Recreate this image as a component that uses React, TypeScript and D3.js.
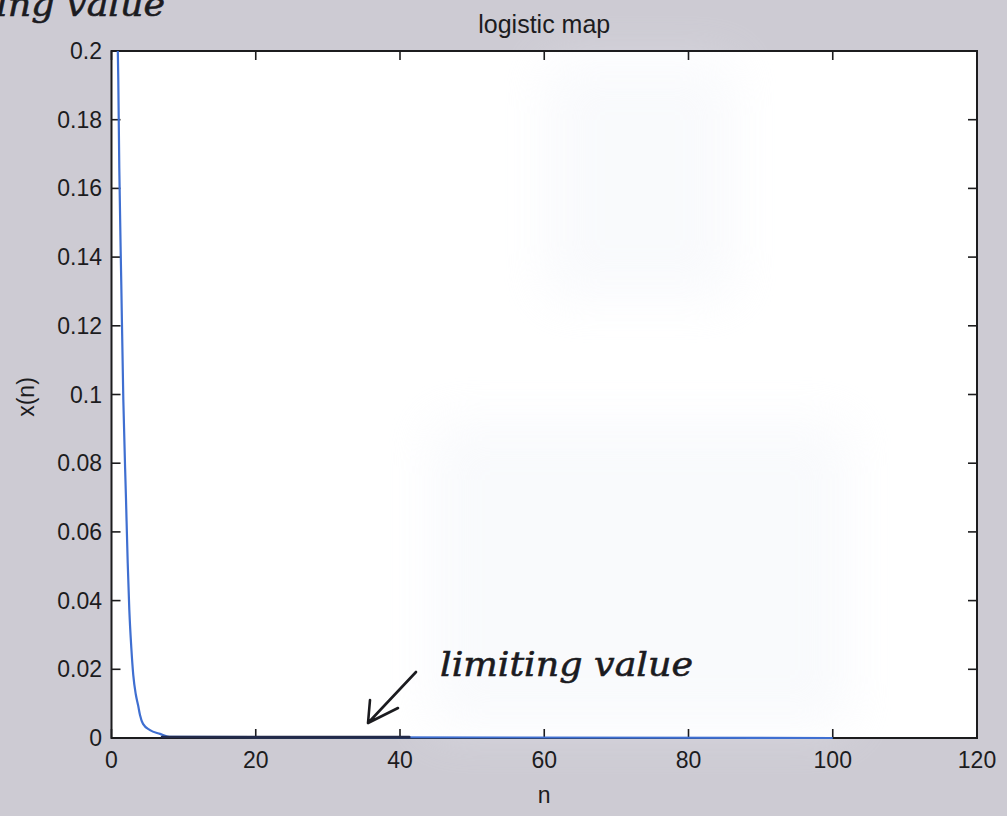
import React from "react";
import * as d3 from "d3";

const traceN = [0.875, 0.94, 1.08, 1.36, 1.64, 2.01, 2.25, 2.47, 2.75, 3.02, 3.36, 3.68, 3.95, 4.37, 5.34, 6.73, 8, 100];
const traceX = [0.2, 0.1916, 0.1659, 0.1319, 0.0984, 0.0696, 0.0509, 0.0373, 0.0262, 0.0183, 0.0128, 0.0096, 0.0067, 0.0041, 0.0023, 0.0012, 0.0003, 0];

const xTicks = [0, 20, 40, 60, 80, 100, 120];
const yTicks = [0, 0.02, 0.04, 0.06, 0.08, 0.1, 0.12, 0.14, 0.16, 0.18, 0.2];

const titleText = "logistic map";
const xLabel = "n";
const yLabel = "x(n)";
const noteText = "limiting value";
// Pen stroke drawn over the settled part of the curve
const penFrom = 7;
const penTo = 41.3;

const W = 1007;
const H = 816;
const M = { left: 111.5, right: 977, top: 51, bottom: 738 };

export default function App() {
  const x = d3.scaleLinear().domain([0, 120]).range([M.left, M.right]);
  const y = d3.scaleLinear().domain([0, 0.2]).range([M.bottom, M.top]);
  const pts: [number, number][] = traceN.map((n, i) => [n, traceX[i]]);
  const line = d3
    .line<[number, number]>()
    .x((d) => x(d[0]))
    .y((d) => y(d[1]))
    .curve(d3.curveMonotoneX);

  const font = "'Liberation Sans', Arial, Helvetica, sans-serif";
  const hand = "'DejaVu Serif', 'Liberation Serif', serif";
  const tick = 9;
  const axisColor = "#1c1c1e";

  return (
    <svg
      width={W}
      height={H}
      style={{ position: "absolute", left: 0, top: 0, display: "block" }}
      viewBox={`0 0 ${W} ${H}`}
    >
      <defs>
        <filter id="haze" x="-20%" y="-20%" width="140%" height="140%">
          <feGaussianBlur stdDeviation="25" />
        </filter>
      </defs>
      <rect x={0} y={0} width={W} height={H} fill="#cdcbd3" />
      <rect x={M.left} y={M.top} width={M.right - M.left} height={M.bottom - M.top} fill="#ffffff" />
      <g filter="url(#haze)" opacity={0.35}>
        <rect x={545} y={60} width={190} height={240} fill="#eef1f8" />
        <rect x={430} y={420} width={420} height={310} fill="#eef1f8" />
      </g>

      {/* frame */}
      <rect
        x={M.left}
        y={M.top}
        width={M.right - M.left}
        height={M.bottom - M.top}
        fill="none"
        stroke={axisColor}
        strokeWidth={2}
      />

      {/* x ticks, bottom and top */}
      {xTicks.map((t) => (
        <g key={"xt" + t}>
          <line x1={x(t)} x2={x(t)} y1={M.bottom} y2={M.bottom - tick} stroke={axisColor} strokeWidth={1.6} />
          <line x1={x(t)} x2={x(t)} y1={M.top} y2={M.top + tick} stroke={axisColor} strokeWidth={1.6} />
          <text x={x(t)} y={768} textAnchor="middle" fontFamily={font} fontSize={23} fill={axisColor}>
            {t}
          </text>
        </g>
      ))}

      {/* y ticks, left and right */}
      {yTicks.map((t) => (
        <g key={"yt" + t}>
          <line x1={M.left} x2={M.left + tick} y1={y(t)} y2={y(t)} stroke={axisColor} strokeWidth={1.6} />
          <line x1={M.right} x2={M.right - tick} y1={y(t)} y2={y(t)} stroke={axisColor} strokeWidth={1.6} />
          <text x={102} y={y(t) + 8} textAnchor="end" fontFamily={font} fontSize={23} fill={axisColor}>
            {d3.format("~g")(t)}
          </text>
        </g>
      ))}

      {/* series */}
      <path d={line(pts) ?? ""} fill="none" stroke="#3f6fd1" strokeWidth={2.2} />
      <line
        x1={x(penFrom)}
        x2={x(penTo)}
        y1={y(0) - 1}
        y2={y(0) - 1}
        stroke="#222a4a"
        strokeWidth={2.4}
        strokeLinecap="round"
      />

      {/* labels */}
      <text x={(M.left + M.right) / 2} y={33} textAnchor="middle" fontFamily={font} fontSize={25} fill={axisColor}>
        {titleText}
      </text>
      <text x={(M.left + M.right) / 2} y={803} textAnchor="middle" fontFamily={font} fontSize={23} fill={axisColor}>
        {xLabel}
      </text>
      <text
        transform={`translate(34, 397) rotate(-90)`}
        textAnchor="middle"
        fontFamily={font}
        fontSize={23}
        fill={axisColor}
      >
        {yLabel}
      </text>

      {/* handwritten notes */}
      <text
        x={440}
        y={676}
        fontFamily={hand}
        fontStyle="italic"
        fontSize={34}
        textLength={253}
        lengthAdjust="spacingAndGlyphs"
        fill="#1b1b1f"
        stroke="#1b1b1f"
        strokeWidth={0.6}
      >
        {noteText}
      </text>
      <path
        d="M416,672 L368,723 M370,700 L368,723 L398,708"
        fill="none"
        stroke="#1b1b1f"
        strokeWidth={2.6}
        strokeLinecap="round"
        strokeLinejoin="round"
      />
      <text
        x={-88}
        y={16}
        fontFamily={hand}
        fontStyle="italic"
        fontSize={34}
        textLength={253}
        lengthAdjust="spacingAndGlyphs"
        fill="#1b1b1f"
        stroke="#1b1b1f"
        strokeWidth={0.6}
      >
        {noteText}
      </text>
    </svg>
  );
}
